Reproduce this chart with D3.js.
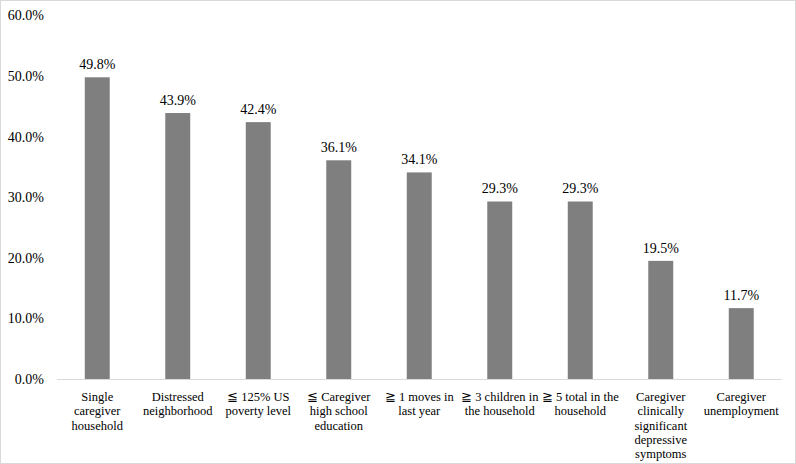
<!DOCTYPE html>
<html>
<head>
<meta charset="utf-8">
<script src="https://cdn.jsdelivr.net/npm/d3@7"></script>
<style>
  body { margin: 0; background: #fff; }
  svg text { font-family: "Liberation Serif", "Times New Roman", "DejaVu Serif", serif; fill: #000; }
</style>
</head>
<body>
<svg width="796" height="464"></svg>
<script>
// categories, each split into the lines shown under the axis
const categories = [
    ["Single", "caregiver", "household"],
    ["Distressed", "neighborhood"],
    ["\u2266 125% US", "poverty level"],
    ["\u2266 Caregiver", "high school", "education"],
    ["\u2267 1 moves in", "last year"],
    ["\u2267 3 children in", "the household"],
    ["\u2267 5 total in the", "household"],
    ["Caregiver", "clinically", "significant", "depressive", "symptoms"],
    ["Caregiver", "unemployment"]
];
const values = [49.8, 43.9, 42.4, 36.1, 34.1, 29.3, 29.3, 19.5, 11.7];
const yTicks = [0, 10, 20, 30, 40, 50, 60];

var svg = d3.select("svg"),
    width = +svg.attr("width"),
    height = +svg.attr("height");

// light outer frame
svg.append("rect")
    .attr("x", 0.5).attr("y", 0.5)
    .attr("width", width - 1).attr("height", height - 1)
    .attr("fill", "none")
    .attr("stroke", "#d9d9d9");

const plotLeft = 57, plotRight = 781.5, plotTop = 15.5, plotBottom = 379;

const x = d3.scaleBand()
    .domain(d3.range(categories.length))
    .range([plotLeft, plotRight])
    .paddingInner(0.69)
    .paddingOuter(0.345);

const y = d3.scaleLinear()
    .domain([0, 60])
    .range([plotBottom, plotTop]);

// y axis labels only
const yAxis = d3.axisLeft(y)
    .tickValues(yTicks)
    .tickSize(0)
    .tickPadding(13)
    .tickFormat(d => d.toFixed(1) + "%");

let yg = svg.append("g")
    .attr("transform", "translate(" + plotLeft + ",0)")
    .call(yAxis);
yg.select(".domain").remove();
yg.selectAll("text")
    .attr("font-size", 14)
    .style("font-family", "'Liberation Serif', serif");

// bars
svg.append("g")
    .selectAll("rect")
    .data(values)
    .enter().append("rect")
    .attr("x", (d, i) => x(i))
    .attr("y", d => y(d))
    .attr("width", x.bandwidth())
    .attr("height", d => y(0) - y(d))
    .attr("fill", "#7f7f7f");

// value labels
svg.append("g")
    .selectAll("text")
    .data(values)
    .enter().append("text")
    .attr("x", (d, i) => x(i) + x.bandwidth() / 2)
    .attr("y", d => y(d) - 8)
    .attr("text-anchor", "middle")
    .attr("font-size", 14)
    .text(d => d.toFixed(1) + "%");

// x axis baseline
svg.append("line")
    .attr("x1", plotLeft).attr("x2", plotRight)
    .attr("y1", plotBottom + 0.5).attr("y2", plotBottom + 0.5)
    .attr("stroke", "#d9d9d9");

// category labels
let catText = svg.append("g")
    .selectAll("text")
    .data(categories)
    .enter().append("text")
    .attr("text-anchor", "middle")
    .attr("font-size", 12.5)
    .attr("transform", (d, i) => "translate(" + (x(i) + x.bandwidth() / 2) + "," + (plotBottom + 22) + ")");

catText.selectAll("tspan")
    .data(d => d)
    .enter().append("tspan")
    .attr("x", 0)
    .attr("y", (d, i) => i * 14.3)
    .text(d => d);
</script>
</body>
</html>
